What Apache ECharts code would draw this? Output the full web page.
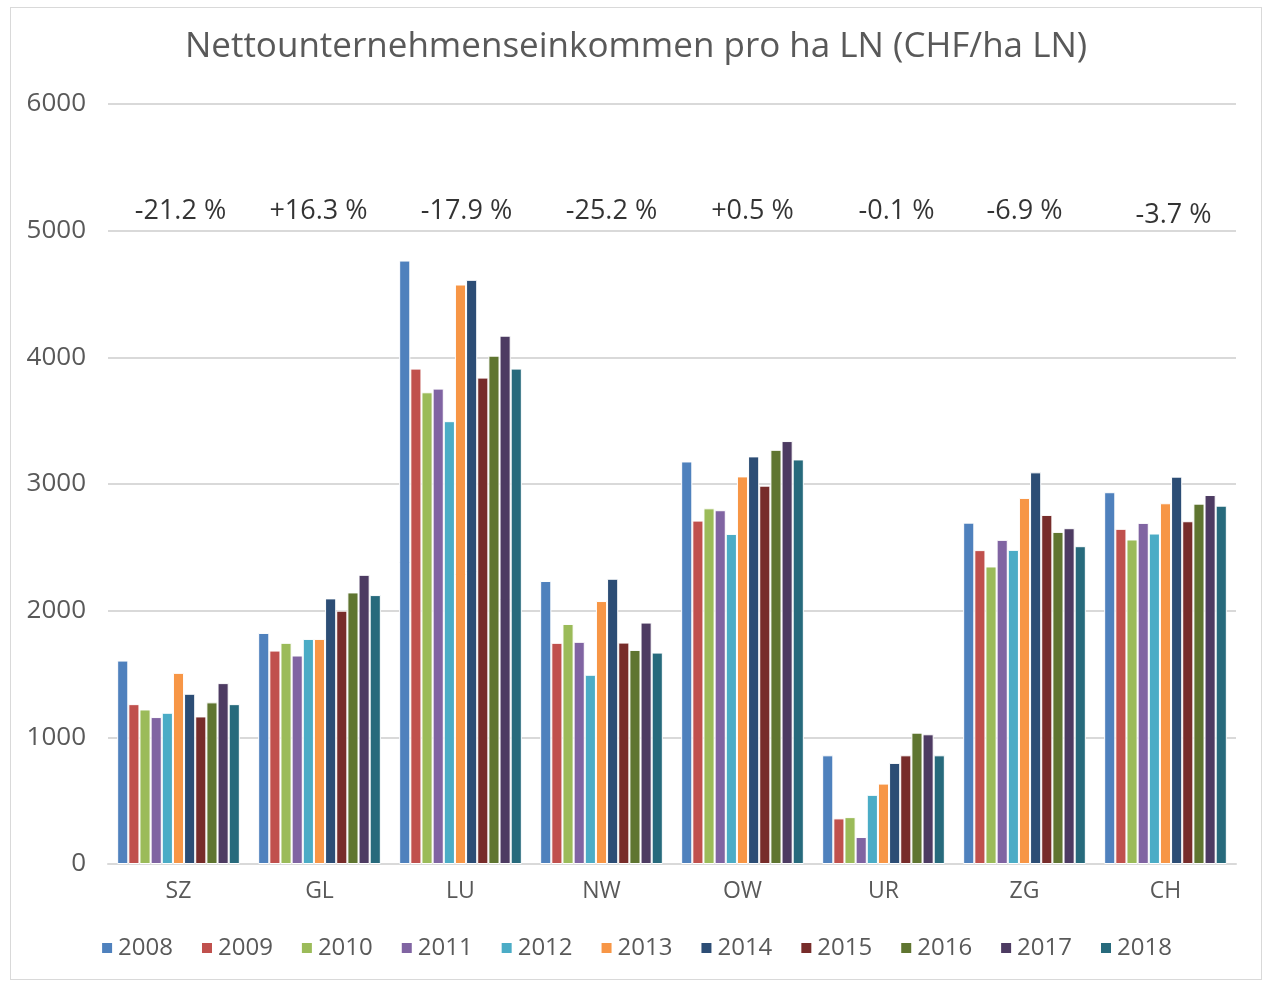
<!DOCTYPE html>
<html>
<head>
<meta charset="utf-8">
<script src="https://cdn.jsdelivr.net/npm/echarts@6/dist/echarts.min.js"></script>
<style>
  body {margin:0;padding:0;overflow:hidden;background:#fff;}
  #main {position:absolute;left:10px;top:7px;width:1252px;height:973px;border:1px solid #d9d9d9;box-sizing:border-box;}
</style>
</head>
<body>
<div id="main"></div>
<script>
// Kantone
let regions = ['SZ', 'GL', 'LU', 'NW', 'OW', 'UR', 'ZG', 'CH'];
let years = ['2008', '2009', '2010', '2011', '2012', '2013', '2014', '2015', '2016', '2017', '2018'];
// Werte je Jahr (Reihenfolge wie regions)
let v2008 = [1606, 1824, 4764, 2234, 3178, 858, 2695, 2935];
let v2009 = [1262, 1685, 3911, 1746, 2711, 360, 2478, 2646];
let v2010 = [1220, 1746, 3724, 1895, 2808, 370, 2349, 2562];
let v2011 = [1160, 1646, 3753, 1754, 2793, 213, 2559, 2693];
let v2012 = [1194, 1777, 3496, 1494, 2606, 546, 2480, 2609];
let v2013 = [1509, 1777, 4575, 2076, 3060, 635, 2890, 2848];
let v2014 = [1344, 2097, 4612, 2252, 3218, 798, 3092, 3058];
let v2015 = [1165, 2000, 3840, 1748, 2987, 858, 2756, 2706];
let v2016 = [1276, 2144, 4013, 1690, 3270, 1037, 2622, 2845];
let v2017 = [1428, 2283, 4171, 1906, 3339, 1024, 2651, 2913];
let v2018 = [1262, 2123, 3911, 1669, 3194, 858, 2509, 2829];
let allValues = [v2008, v2009, v2010, v2011, v2012, v2013, v2014, v2015, v2016, v2017, v2018];
// Veränderung 2008-2018
let changes = ['-21.2 %', '+16.3 %', '-17.9 %', '-25.2 %', '+0.5 %', '-0.1 %', '-6.9 %', '-3.7 %'];
let changeLevel = [5150, 5150, 5150, 5150, 5150, 5150, 5150, 5120];

let colors = ['#4f81bd', '#c0504d', '#9bbb59', '#8064a2', '#4bacc6', '#f79646',
              '#2c4d75', '#772c2a', '#5f7530', '#4d3b62', '#276a7c'];
let labelShift = [2, -1, 6, 10, 10, 13, 0, 8];

let myChart = echarts.init(document.getElementById('main'));

let series = [];
for (let i = 0; i < years.length; i++) {
    series.push({
        name: years[i],
        type: 'bar',
        data: allValues[i],
        barGap: '0%',
        barCategoryGap: '13%',
        itemStyle: {color: colors[i], borderColor: '#fff', borderWidth: 1}
    });
}
// Prozent-Beschriftungen über den Gruppen
series.push({
    type: 'scatter',
    symbolSize: 0,
    silent: true,
    data: changeLevel.map(function (v, i) {
        return {value: v, label: {offset: [labelShift[i], 0]}};
    }),
    label: {
        show: true,
        position: 'inside',
        formatter: function (p) { return changes[p.dataIndex]; },
        fontSize: 27,
        color: '#000',
        fontFamily: 'Open Sans'
    }
});

let option = {
    animation: false,
    color: colors,
    textStyle: {fontFamily: 'Open Sans'},
    title: {
        text: 'Nettounternehmenseinkommen pro ha LN (CHF/ha LN)',
        left: 'center',
        top: 17,
        textStyle: {fontSize: 35, fontWeight: 'normal', color: '#595959', fontFamily: 'Open Sans'}
    },
    legend: {
        data: years,
        bottom: 14,
        left: 'center',
        itemWidth: 12,
        itemHeight: 12,
        itemGap: 27,
        icon: 'rect',
        textStyle: {fontSize: 24, color: '#595959'}
    },
    grid: {left: 97, right: 25, top: 96, bottom: 115},
    xAxis: {
        type: 'category',
        data: regions,
        axisLine: {lineStyle: {color: '#d9d9d9', width: 2}},
        axisTick: {show: false},
        axisLabel: {fontSize: 23, color: '#595959', margin: 16}
    },
    yAxis: {
        type: 'value',
        min: 0,
        max: 6000,
        interval: 1000,
        axisLine: {show: false},
        axisTick: {show: false},
        axisLabel: {fontSize: 26, color: '#595959', margin: 22, formatter: function (v) { return String(v); }},
        splitLine: {lineStyle: {color: '#d9d9d9', width: 2}}
    },
    series: series
};

myChart.setOption(option);
window.onresize = myChart.resize;
</script>
</body>
</html>
